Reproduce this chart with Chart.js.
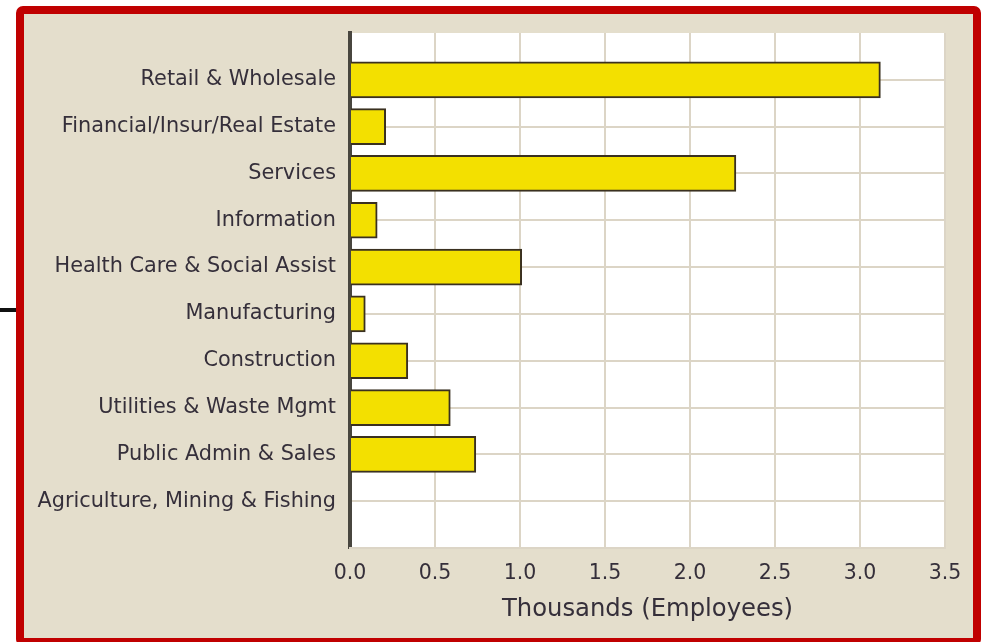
<!DOCTYPE html>
<html>
<head>
<meta charset="utf-8">
<script src="https://cdn.jsdelivr.net/npm/chart.js@4"></script>
<style>
  body { margin: 0; background: #fff; width: 984px; height: 642px; overflow: hidden; position: relative; }
  #stray { position: absolute; left: 0; top: 308px; width: 18px; height: 4px; background: #111; }
  #frame { position: absolute; left: 16px; top: 6px; width: 965px; height: 640px; box-sizing: border-box;
           border: 8px solid #c00000; border-radius: 7px; background: #e4decc; }
  #chart { position: absolute; left: 0; top: 0; }
</style>
</head>
<body>
<div id="stray"></div>
<div id="frame"></div>
<canvas id="chart" width="984" height="642"></canvas>
<script>
const categories = [
  "Retail & Wholesale",
  "Financial/Insur/Real Estate",
  "Services",
  "Information",
  "Health Care & Social Assist",
  "Manufacturing",
  "Construction",
  "Utilities & Waste Mgmt",
  "Public Admin & Sales",
  "Agriculture, Mining & Fishing"
];
const employees = [3.12, 0.21, 2.27, 0.16, 1.01, 0.09, 0.34, 0.59, 0.74, 0];
const xTicks = [0, 0.5, 1.0, 1.5, 2.0, 2.5, 3.0, 3.5];

// blank slots above and below give the half-row gap the original has
const labels = ["", ...categories, ""];
const values = [null, ...employees, null];

const plotBg = {
  id: "plotBg",
  beforeDraw(chart) {
    const a = chart.chartArea;
    const c = chart.ctx;
    c.save();
    c.fillStyle = "#ffffff";
    c.fillRect(a.left, a.top, a.right - a.left, a.bottom - a.top);
    c.restore();
  }
};

const ctx = document.getElementById("chart").getContext("2d");
new Chart(ctx, {
  type: "bar",
  data: {
    labels: labels,
    datasets: [{
      data: values,
      backgroundColor: "#f3e000",
      borderColor: "#3a3020",
      borderWidth: 2,
      barThickness: 36
    }]
  },
  options: {
    indexAxis: "y",
    responsive: false,
    animation: false,
    layout: { padding: { top: 33, right: 39, bottom: 18, left: 0 } },
    plugins: { legend: { display: false }, tooltip: { enabled: false } },
    scales: {
      y: {
        offset: false,
        afterFit: s => { s.width = 350; },
        grid: {
          offset: false,
          drawTicks: false,
          lineWidth: 2,
          color: c => (c.index === 0 || c.index === labels.length - 1) ? "rgba(0,0,0,0)" : "#dcd5c6"
        },
        border: { display: true, color: "#48463f", width: 4 },
        ticks: {
          padding: 14,
          color: "#352f3a",
          font: { family: "DejaVu Sans", size: 20.8 }
        }
      },
      x: {
        min: 0,
        max: 3.5,
        afterFit: s => { s.height = 76; },
        afterBuildTicks: s => { s.ticks = xTicks.map(v => ({ value: v })); },
        grid: { drawTicks: false, lineWidth: 2, color: "#dcd5c6" },
        border: { display: true, color: "#dcd5c6", width: 2 },
        ticks: {
          padding: 13,
          color: "#352f3a",
          font: { family: "DejaVu Sans", size: 20.5 },
          callback: v => Number(v).toFixed(1)
        },
        title: {
          display: true,
          text: "Thousands (Employees)",
          color: "#352f3a",
          font: { family: "DejaVu Sans", size: 24.3 },
          padding: { top: 11, bottom: 0 }
        }
      }
    }
  },
  plugins: [plotBg]
});
</script>
</body>
</html>
